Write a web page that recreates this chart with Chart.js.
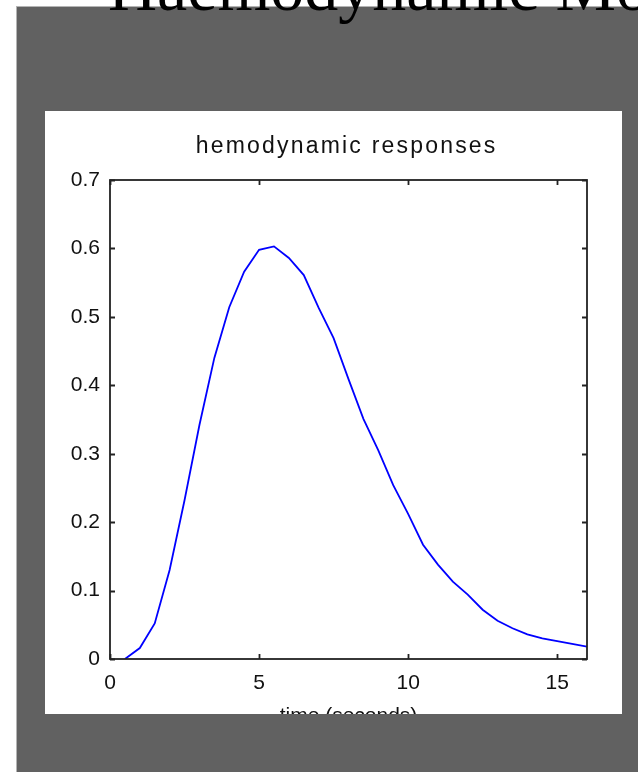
<!DOCTYPE html>
<html>
<head>
<meta charset="utf-8">
<script src="https://cdn.jsdelivr.net/npm/chart.js@4.4.0/dist/chart.umd.min.js"></script>
<style>
  html, body { margin: 0; padding: 0; background: #fff; overflow: hidden; }
  body { width: 638px; height: 772px; position: relative; }
  #slide {
    position: absolute; left: 16px; top: 6px; width: 640px; height: 780px;
    background: #616161; border-left: 1px solid #b4b4b4; border-top: 1px solid #b4b4b4;
  }
  #heading {
    position: absolute; left: 108px; top: -47px; white-space: nowrap;
    font-family: "Liberation Serif", "DejaVu Serif", serif; font-size: 68px; line-height: 68px;
    color: #000; z-index: 2;
  }
  #panel {
    position: absolute; left: 45px; top: 111px; width: 577px; height: 603px;
    background: #fff; overflow: hidden;
  }
</style>
</head>
<body>
<div id="slide"></div>
<div id="heading">Haemodynamic Model</div>
<div id="panel">
  <canvas id="grafico" width="577" height="640"></canvas>
</div>
<script>
// time in seconds, response values
const tempos = [0.5, 1, 1.5, 2, 2.5, 3, 3.5, 4, 4.5, 5, 5.5, 6, 6.5, 7, 7.5, 8,
  8.5, 9, 9.5, 10, 10.5, 11, 11.5, 12, 12.5, 13, 13.5, 14, 14.5, 15, 15.5, 16];
const respostas = [0, 0.016, 0.052, 0.130, 0.232, 0.342, 0.440, 0.514, 0.566, 0.598, 0.603, 0.586,
  0.561, 0.513, 0.469, 0.409, 0.351, 0.305, 0.254, 0.212, 0.167, 0.138, 0.113, 0.094,
  0.072, 0.056, 0.045, 0.036, 0.030, 0.026, 0.022, 0.018];
const xTicks = [0, 5, 10, 15];
const yTicks = [0, 0.1, 0.2, 0.3, 0.4, 0.5, 0.6, 0.7];
const titulo = 'hemodynamic responses';
const tituloX = 'time (seconds)';

const pontos = tempos.map((t, i) => ({ x: t, y: respostas[i] }));
const fonte = { family: '"Liberation Sans", Arial, sans-serif', size: 21 };

// matlab style box with inward ticks + spaced title
const caixa = {
    id: 'caixa',
    afterDraw(chart) {
        const ctx = chart.ctx;
        const a = chart.chartArea;
        const sx = chart.scales.x, sy = chart.scales.y;
        ctx.save();
        ctx.strokeStyle = '#222';
        ctx.lineWidth = 1.8;
        ctx.strokeRect(a.left, a.top, a.right - a.left, a.bottom - a.top);
        ctx.beginPath();
        xTicks.forEach(v => {
            const px = Math.round(sx.getPixelForValue(v)) + 0.5;
            ctx.moveTo(px, a.bottom); ctx.lineTo(px, a.bottom - 5);
            ctx.moveTo(px, a.top); ctx.lineTo(px, a.top + 5);
        });
        yTicks.forEach(v => {
            const py = Math.round(sy.getPixelForValue(v)) + 0.5;
            ctx.moveTo(a.left, py); ctx.lineTo(a.left + 5, py);
            ctx.moveTo(a.right, py); ctx.lineTo(a.right - 5, py);
        });
        ctx.stroke();

        const esp = 2.2;
        ctx.font = '23px "Liberation Sans", Arial, sans-serif';
        ctx.fillStyle = '#111';
        ctx.letterSpacing = esp + 'px';
        const w = ctx.measureText(titulo).width - esp;
        ctx.textBaseline = 'alphabetic';
        ctx.textAlign = 'left';
        ctx.fillText(titulo, (a.left + a.right) / 2 - w / 2 - 3, 42);
        ctx.restore();
    }
};

new Chart(document.getElementById('grafico').getContext('2d'), {
    type: 'line',
    data: {
        datasets: [{
            data: pontos,
            borderColor: '#0000ff',
            borderWidth: 1.8,
            pointRadius: 0,
            fill: false,
            tension: 0
        }]
    },
    options: {
        responsive: false,
        animation: false,
        layout: { padding: { left: 0, top: 69, right: 35, bottom: 0 } },
        plugins: { legend: { display: false }, tooltip: { enabled: false } },
        scales: {
            x: {
                type: 'linear',
                min: 0,
                max: 16,
                afterBuildTicks: s => { s.ticks = xTicks.map(v => ({ value: v })); },
                afterFit: s => { s.height = 92; },
                grid: { display: false, drawTicks: false },
                border: { display: false },
                ticks: { font: fonte, color: '#111', padding: 12, maxRotation: 0 },
                title: { display: true, text: tituloX, font: fonte, color: '#111', padding: { top: 0, bottom: 22 } }
            },
            y: {
                min: 0,
                max: 0.7,
                afterBuildTicks: s => { s.ticks = yTicks.map(v => ({ value: v })); },
                afterFit: s => { s.width = 65; },
                grid: { display: false, drawTicks: false },
                border: { display: false },
                ticks: { font: fonte, color: '#111', padding: 10, callback: v => String(+v.toFixed(1)) }
            }
        }
    },
    plugins: [caixa]
});
</script>
</body>
</html>
